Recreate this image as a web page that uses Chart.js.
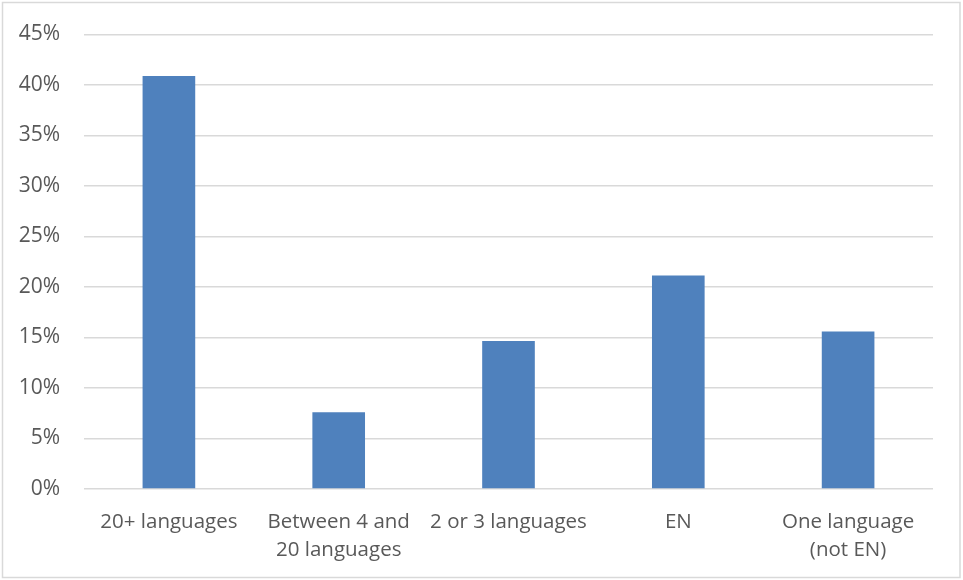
<!DOCTYPE html>
<html>
<head>
<meta charset="utf-8">
<script src="https://cdn.jsdelivr.net/npm/chart.js@4.4.1/dist/chart.umd.min.js"></script>
<style>
html,body{margin:0;padding:0;background:#fff;}
#wrap{position:relative;width:963px;height:580px;}
</style>
</head>
<body>
<div id="wrap"><canvas id="c" width="963" height="580"></canvas></div>
<script>
const categories = [["20+ languages"], ["Between 4 and", "20 languages"], ["2 or 3 languages"], ["EN"], ["One language", "(not EN)"]];
const values = [40.9, 7.6, 14.65, 21.15, 15.6];
const yTicks = [0, 5, 10, 15, 20, 25, 30, 35, 40, 45];

const borderPlugin = {
  id: 'outerBorder',
  beforeDraw(chart) {
    const ctx = chart.ctx;
    ctx.save();
    ctx.fillStyle = '#fff';
    ctx.fillRect(0, 0, chart.width, chart.height);
    ctx.strokeStyle = '#d9d9d9';
    ctx.lineWidth = 1.5;
    ctx.strokeRect(2.5, 2.5, chart.width - 5.5, chart.height - 5);
    ctx.restore();
  }
};

new Chart(document.getElementById('c'), {
  type: 'bar',
  data: {
    labels: categories,
    datasets: [{
      data: values,
      backgroundColor: '#4f81bd',
      borderWidth: 0,
      categoryPercentage: 0.31,
      barPercentage: 1.0
    }]
  },
  options: {
    responsive: false,
    animation: false,
    devicePixelRatio: 1,
    layout: { padding: { left: 0, top: 34, right: 30, bottom: 0 } },
    plugins: { legend: { display: false }, tooltip: { enabled: false } },
    scales: {
      x: {
        grid: { display: false, drawTicks: false },
        border: { display: false },
        ticks: {
          color: '#595959',
          font: { family: 'Open Sans', size: 20.5, lineHeight: 1.37 },
          padding: 19,
          maxRotation: 0,
          autoSkip: false
        },
        afterFit(s) { s.height = 91; }
      },
      y: {
        min: 0, max: 45,
        afterBuildTicks(s) { s.ticks = yTicks.map(v => ({ value: v })); },
        grid: { color: '#d9d9d9', lineWidth: 1.5, drawTicks: false },
        border: { display: false },
        ticks: {
          color: '#595959',
          font: { family: 'Open Sans', size: 21, lineHeight: 1.0 },
          padding: 24,
          callback: v => v + '%'
        },
        afterFit(s) { s.width = 84; }
      }
    }
  },
  plugins: [borderPlugin]
});
</script>
</body>
</html>
